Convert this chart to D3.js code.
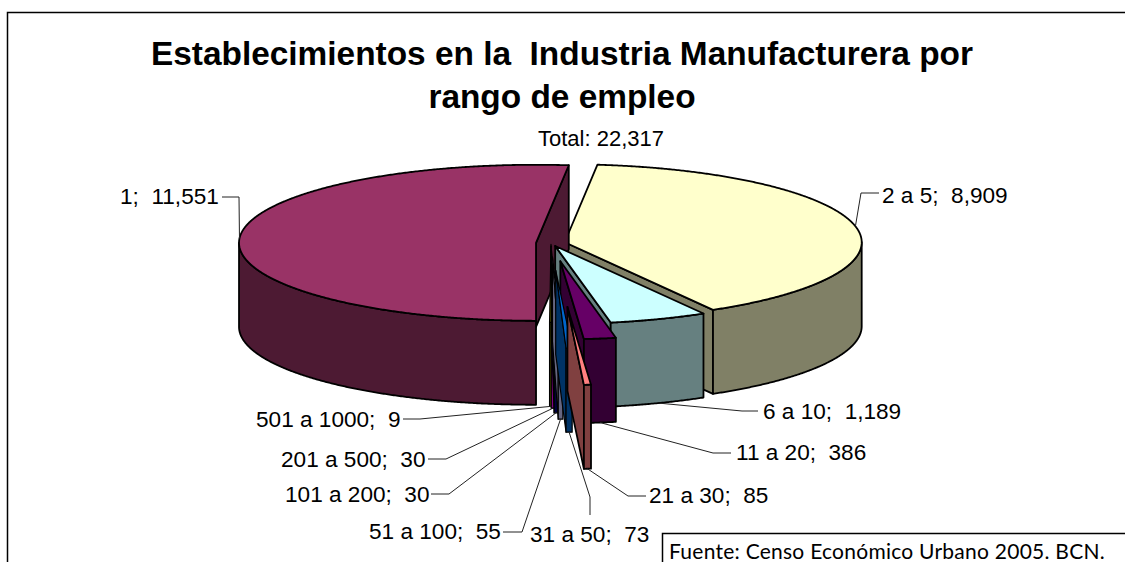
<!DOCTYPE html>
<html><head><meta charset="utf-8">
<script src="https://cdn.jsdelivr.net/npm/d3@7/dist/d3.min.js"></script>
<style>html,body{margin:0;padding:0;background:#fff;overflow:hidden}svg{display:block}text{white-space:pre}</style>
</head><body><svg id="c" width="1125" height="562" xml:space="preserve"></svg>
<script>
// data
const categories = ["1","2 a 5","6 a 10","11 a 20","21 a 30","31 a 50","51 a 100","101 a 200","201 a 500","501 a 1000"];
const establishments = [11551,8909,1189,386,85,73,55,30,30,9];
const valueLabels = ["11,551","8,909","1,189","386","85","73","55","30","30","9"];
const sliceColors = ["#993366","#FFFFCC","#CCFFFF","#660066","#FF8080","#0066CC","#CCCCFF","#000080","#FF00FF","#FFFF00"];
const explosion = [15,14,12,70,244,104,54,30,12,5];
const titleLines = ["Establecimientos en la  Industria Manufacturera por","rango de empleo"];
const subtitle = "Total: 22,317";
const sourceNote = "Fuente: Censo Económico Urbano 2005. BCN.";
// annotation layout: label start and baseline, and the elbow of each leader
const labelX = [120,882,763,736,649,530,369,285,281,256];
const labelY = [204,203,419,460,503,542,539,502,467,427];
const elbows = [[[239,197],[222,197]],[[861,193],[879,193]],[[742,411],[758,411]],[[713,453],[731,453]],[[628,496],[646,496]],[[590,497],[590,515]],[[522,532],[503,532]],[[449,494],[431,494]],[[446,459],[428,459]],[[420,419],[403,419]]];

const W=1125,H=562,cx=551,cy=243,rx=297,ry=78,depth=84;
const minSweep=0.7*Math.PI/180;
const svg=d3.select("#c");
const FONT="'Liberation Sans',Arial,sans-serif";
const sx=d3.scaleLinear().domain([-1,1]).range([-rx,rx]);
const sy=d3.scaleLinear().domain([-1,1]).range([-ry,ry]);
const pie=d3.pie().sort(null).startAngle(Math.PI).endAngle(3*Math.PI);
const arcs=pie(establishments).map((d,i)=>{
  const mid=(d.startAngle+d.endAngle)/2, e=explosion[i];
  const c=d3.rgb(sliceColors[i]);
  const half=Math.max(d.endAngle-d.startAngle,minSweep)/2;
  return {i,a0:mid-half,a1:mid+half,mid,thin:half*2<1.2*Math.PI/180,
    ox:cx+e*Math.sin(mid), oy:cy-e*Math.cos(mid)*ry/rx, color:sliceColors[i], side:d3.rgb(c.r/2,c.g/2,c.b/2).formatHex()};
});
const rim=(s,a,z)=>[s.ox+sx(Math.sin(a)), s.oy-sy(Math.cos(a))+z];
const apex=(s,z)=>[s.ox,s.oy+z];
const sweep=(s,a0,a1,z)=>{const n=Math.max(2,Math.ceil(Math.abs(a1-a0)*180));return d3.range(n+1).map(k=>rim(s,a0+(a1-a0)*k/n,z));};
const line=d3.line();
const closed=p=>line(p)+"Z";
const g=svg.append("g").attr("stroke","#000").attr("stroke-linejoin","round");
[...arcs].sort((a,b)=>a.oy-b.oy).forEach(s=>{
  const gs=g.append("g").attr("stroke-width",s.thin?1.2:1.8);
  if(Math.sin(s.a0)<-1e-6) gs.append("path").attr("d",closed([apex(s,0),rim(s,s.a0,0),rim(s,s.a0,depth),apex(s,depth)])).attr("fill",s.side);
  if(Math.sin(s.a1)>1e-6) gs.append("path").attr("d",closed([apex(s,0),rim(s,s.a1,0),rim(s,s.a1,depth),apex(s,depth)])).attr("fill",s.side);
  [0,2*Math.PI].forEach(turn=>{
    const w0=Math.max(s.a0,Math.PI/2+turn), w1=Math.min(s.a1,1.5*Math.PI+turn);
    if(w1>w0) gs.append("path").attr("d",closed([...sweep(s,w0,w1,0),...sweep(s,w1,w0,depth)])).attr("fill",s.side);
  });
  gs.append("path").attr("d",closed([apex(s,0),...sweep(s,s.a0,s.a1,0)])).attr("fill",s.color);
});
// leaders
const lg=svg.append("g").attr("fill","none").attr("stroke","#222").attr("stroke-width",1);
arcs.forEach(s=>{
  const front=Math.cos(s.mid)<-0.5;
  lg.append("path").attr("d",line([rim(s,s.mid,front?depth:0),...elbows[s.i]]));
});
// labels
svg.append("g").selectAll("text").data(categories).join("text")
  .attr("x",(d,i)=>labelX[i]).attr("y",(d,i)=>labelY[i]).attr("font-family",FONT).attr("font-size",22.6).attr("fill","#000")
  .text((d,i)=>`${d};  ${valueLabels[i]}`);
// title
svg.append("g").selectAll("text").data(titleLines).join("text")
  .attr("x",562).attr("y",(d,i)=>65+i*43).attr("text-anchor","middle").attr("font-family",FONT).attr("font-weight","bold").attr("font-size",33.4).attr("fill","#000").text(d=>d);
svg.append("text").attr("x",601).attr("y",146).attr("text-anchor","middle").attr("font-family",FONT).attr("font-size",22).text(subtitle);
// frame
svg.append("path").attr("d",line([[7.5,H],[7.5,12.5],[W,12.5]])).attr("fill","none").attr("stroke","#000").attr("stroke-width",1.5);
svg.append("path").attr("d",line([[662.5,H],[662.5,533.5],[W,533.5]])).attr("fill","none").attr("stroke","#000").attr("stroke-width",1.5);
svg.append("text").attr("x",669).attr("y",559).attr("font-family","Lato,'Open Sans',sans-serif").attr("font-size",21).attr("letter-spacing",0.25).attr("fill","#000").text(sourceNote);
</script></body></html>
